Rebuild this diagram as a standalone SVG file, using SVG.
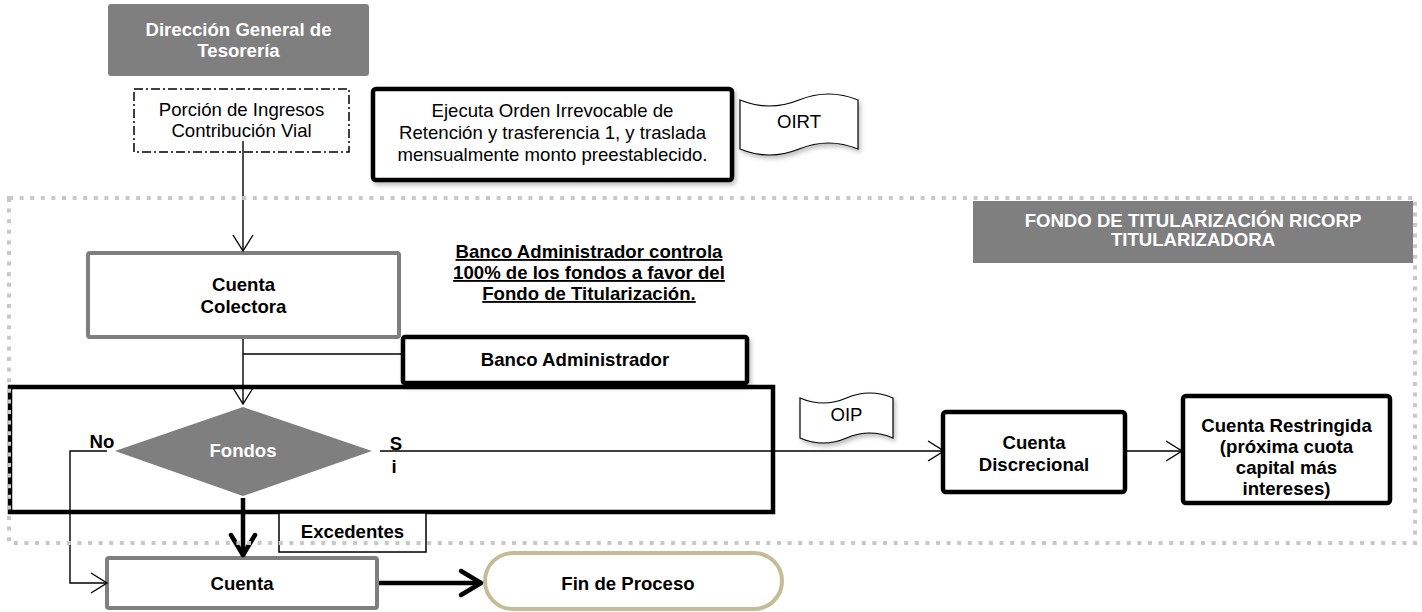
<svg xmlns="http://www.w3.org/2000/svg" width="1422" height="612" viewBox="0 0 1422 612">
<defs>
<style>
text{font-family:"Liberation Sans",Arial,sans-serif;font-size:18.6px;text-anchor:middle;fill:#000}
.b{font-weight:bold}
.w{fill:#fff;font-weight:bold}
.thin{fill:none;stroke:#000;stroke-width:1.4}
.thick{fill:none;stroke:#000;stroke-width:4.5}
.blk{fill:#fff;stroke:#000;stroke-width:4.5}
.gry{fill:#fff;stroke:#7f7f7f;stroke-width:4}
.gfill{fill:#7f7f7f}
.u{text-decoration:underline}
</style>
<marker id="a" markerUnits="userSpaceOnUse" viewBox="-18 -12 20 24" refX="0" refY="0" markerWidth="20" markerHeight="24" orient="auto" overflow="visible">
<path d="M-16,-10 L0,0 L-16,10" fill="none" stroke="#000" stroke-width="1.4"/>
</marker>
<marker id="A" markerUnits="userSpaceOnUse" viewBox="-26 -16 30 32" refX="0" refY="0" markerWidth="30" markerHeight="32" orient="auto" overflow="visible">
<path d="M-21,-12 L-1,0 L-21,12" fill="none" stroke="#000" stroke-width="4.5" stroke-linecap="round" stroke-linejoin="round"/>
</marker>
<filter id="sh" x="-10%" y="-10%" width="130%" height="140%">
<feDropShadow dx="2" dy="3" stdDeviation="2" flood-color="#000" flood-opacity="0.25"/>
</filter>
</defs>
<rect width="1422" height="612" fill="#fff"/>

<g id="n-direccion">
<rect x="108" y="4" width="261" height="72" rx="3" class="gfill"/>
<text x="238.5" y="36" class="w">Dirección General de</text>
<text x="238.5" y="57" class="w">Tesorería</text>
</g>

<g id="n-porcion">
<rect x="134" y="89" width="215" height="63" fill="#fff" stroke="#000" stroke-width="1.5" stroke-dasharray="9 3 2 3"/>
<text x="241.5" y="116">Porción de Ingresos</text>
<text x="241.5" y="137">Contribución Vial</text>
</g>

<g id="n-ejecuta">
<rect x="373" y="89" width="359" height="91" rx="3" class="blk" filter="url(#sh)"/>
<text x="552.5" y="117">Ejecuta Orden Irrevocable de</text>
<text x="552.5" y="139">Retención y trasferencia 1, y traslada</text>
<text x="552.5" y="161">mensualmente monto preestablecido.</text>
</g>

<g id="n-oirt">
<path d="M740,100 Q769.5,112 799,100 T858,100 L858,149 Q828.5,137 799,149 T740,149 Z" fill="#fff" stroke="#000" stroke-width="1.2" filter="url(#sh)"/>
<text x="799" y="128">OIRT</text>
</g>

<g id="n-fondo">
<rect x="973" y="201" width="440" height="62" class="gfill"/>
<text x="1193" y="227" class="w">FONDO DE TITULARIZACIÓN RICORP</text>
<text x="1193" y="246" class="w">TITULARIZADORA</text>
</g>

<g id="n-nota">
<text x="589" y="258" class="b u">Banco Administrador controla</text>
<text x="589" y="279" class="b u">100% de los fondos a favor del</text>
<text x="589" y="300" class="b u">Fondo de Titularización.</text>
</g>

<g id="n-colectora">
<rect x="88" y="253" width="311" height="84" rx="2" class="gry"/>
<text x="243.5" y="291" class="b">Cuenta</text>
<text x="243.5" y="313" class="b">Colectora</text>
</g>

<g id="n-grande">
<rect x="10" y="387" width="763" height="125" class="blk" fill="none"/>
</g>

<g id="n-banco">
<rect x="403" y="337" width="344" height="46" rx="2" class="blk" filter="url(#sh)"/>
<text x="575" y="366" class="b">Banco Administrador</text>
</g>

<g id="n-fondos">
<polygon points="243,407 372,451 243,496 115,451" class="gfill"/>
<text x="243" y="457" class="w">Fondos</text>
</g>

<g id="n-oip">
<path d="M800,398 Q823.25,408 846.5,398 T893,398 L893,438 Q869.75,428 846.5,438 T800,438 Z" fill="#fff" stroke="#000" stroke-width="1.2" filter="url(#sh)"/>
<text x="846.5" y="421">OIP</text>
</g>

<g id="n-discrecional">
<rect x="943" y="412" width="182" height="80" rx="3" class="blk"/>
<text x="1034" y="449" class="b">Cuenta</text>
<text x="1034" y="471" class="b">Discrecional</text>
</g>

<g id="n-restringida">
<rect x="1183" y="396" width="207" height="107" rx="3" class="blk"/>
<text x="1286.5" y="432" class="b">Cuenta Restringida</text>
<text x="1286.5" y="453" class="b">(próxima cuota</text>
<text x="1286.5" y="474" class="b">capital más</text>
<text x="1286.5" y="495" class="b">intereses)</text>
</g>

<g id="n-excedentes">
<rect x="279" y="513" width="147" height="39" fill="#fff" stroke="#000" stroke-width="1.5"/>
<text x="352.5" y="538" class="b">Excedentes</text>
</g>

<g id="n-cuenta">
<rect x="107" y="558" width="270" height="50" rx="2" class="gry"/>
<text x="242" y="590" class="b">Cuenta</text>
</g>

<g id="n-fin">
<rect x="485" y="553" width="297" height="56" rx="28" fill="#fff" stroke="#c4bd97" stroke-width="4"/>
<text x="628" y="590" class="b">Fin de Proceso</text>
</g>

<g id="connectors">
<line x1="243" y1="141" x2="243" y2="251" class="thin" marker-end="url(#a)"/>
<line x1="243" y1="339" x2="243" y2="404" class="thin" marker-end="url(#a)"/>
<line x1="243" y1="354" x2="403" y2="354" class="thin"/>
<polyline points="107,451 70,451 70,583 107,583" class="thin" marker-end="url(#a)"/>
<line x1="380" y1="451" x2="944" y2="451" class="thin" marker-end="url(#a)"/>
<line x1="1127" y1="451" x2="1182" y2="451" class="thin" marker-end="url(#a)"/>
<line x1="243" y1="498" x2="243" y2="556" class="thick" marker-end="url(#A)"/>
<line x1="379" y1="583" x2="482" y2="583" class="thick" marker-end="url(#A)"/>
</g>

<g id="labels">
<text x="102" y="448" class="b">No</text>
<text x="396" y="450" class="b">S</text>
<text x="394" y="473" class="b">i</text>
</g>

<g id="boundary">
<rect x="9" y="198" width="1406" height="345" fill="none" stroke="#c8c8c8" stroke-width="4" stroke-dasharray="4 6.6"/>
</g>
</svg>
